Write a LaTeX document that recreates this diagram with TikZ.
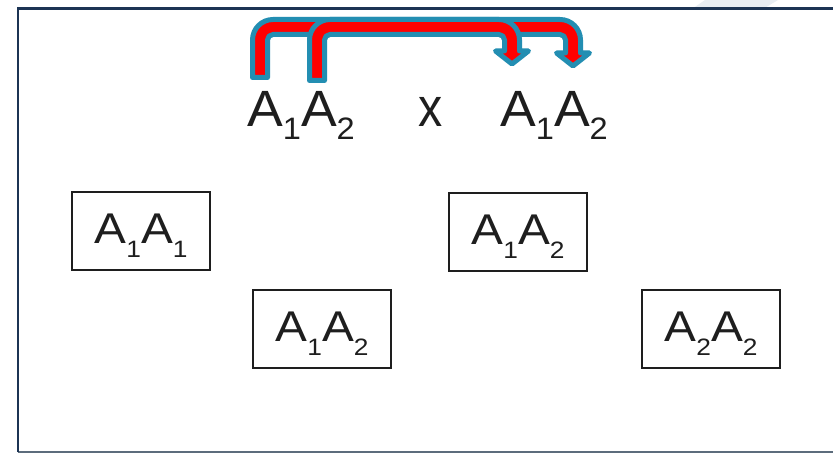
\documentclass[tikz,border=0pt]{standalone}
\usepackage{fontspec}
\setmainfont{Liberation Sans}
\definecolor{arrblue}{RGB}{35,142,178}
\definecolor{arrred}{RGB}{255,0,0}
\definecolor{framenavy}{RGB}{28,52,84}
\definecolor{framegrey}{RGB}{92,108,124}
\definecolor{inkgrey}{RGB}{30,30,30}
\definecolor{paleband}{RGB}{233,238,243}
\newcommand\bsub[1]{\raisebox{-14pt}{\fontsize{23.7}{23.7}\selectfont #1}}
\newcommand\tsub[1]{\raisebox{-13pt}{\fontsize{31}{31}\selectfont #1}}
\newcommand\boxtxt[2]{\scalebox{1.11}[1]{A\bsub{#1}A\bsub{#2}}}
\newcommand\toptxt[2]{\scalebox{1.05}[1]{A\tsub{#1}A\tsub{#2}}}
% bent arrow: #1 stem x, #2 stem bottom y, #3 top y, #4 head x, #5 head top y, #6 tip y
\newcommand\bentarrow[6]{%
\draw[bentarr] (#1-7.5,#2) -- (#1-7.5,#3+13) arc[start angle=180,end angle=270,radius=20.5]
 -- (#4-13,#3-7.5) arc[start angle=270,end angle=360,radius=20.5]
 -- (#4+7.5,#5) -- (#4+16.5,#5) -- (#4,#6) -- (#4-16.5,#5) -- (#4-7.5,#5)
 -- (#4-7.5,#3+13) arc[start angle=0,end angle=-90,radius=5.5]
 -- (#1+13,#3+7.5) arc[start angle=270,end angle=180,radius=5.5]
 -- (#1+7.5,#2) -- cycle;}
\begin{document}
\begin{tikzpicture}[x=1pt,y=-1pt,
  bentarr/.style={fill=arrred,draw=arrblue,line width=5pt,line join=round},
  gbox/.style={draw=inkgrey,line width=1.5pt,minimum width=138pt,minimum height=78pt,
    inner sep=0pt,text height=31pt,text depth=6pt,text=inkgrey,font=\fontsize{43}{43}\selectfont},
  ttext/.style={inner sep=0pt,text=inkgrey,font=\fontsize{51}{51}\selectfont}]
\useasboundingbox (0,0) rectangle (833,454);
\fill[white] (0,0) rectangle (833,454);
\fill[paleband] (705,0) -- (778,0) -- (763,9) -- (692,9) -- cycle;
\draw[framegrey,line width=2pt] (18,452) -- (833,452);
\draw[framenavy,line width=2.5pt] (18,452) -- (18,8.5) -- (833,8.5);
% top cross
\node[ttext,anchor=base west] (g1) at (247,127) {\toptxt{1}{2}};
\node[ttext,anchor=base,font=\fontsize{55}{55}\selectfont] (cross) at (431,127) {\scalebox{0.88}[1]{x}};
\node[ttext,anchor=base west] (g2) at (500,127) {\toptxt{1}{2}};
% arrows
\bentarrow{260}{77.5}{27}{573}{53}{66}
\bentarrow{317}{80.5}{27}{512}{51}{64}
% offspring boxes
\node[gbox] (b1) at (141,231) {\boxtxt{1}{1}};
\node[gbox] (b2) at (322,329) {\boxtxt{1}{2}};
\node[gbox] (b3) at (518,232) {\boxtxt{1}{2}};
\node[gbox] (b4) at (711,329) {\boxtxt{2}{2}};
\end{tikzpicture}
\end{document}
